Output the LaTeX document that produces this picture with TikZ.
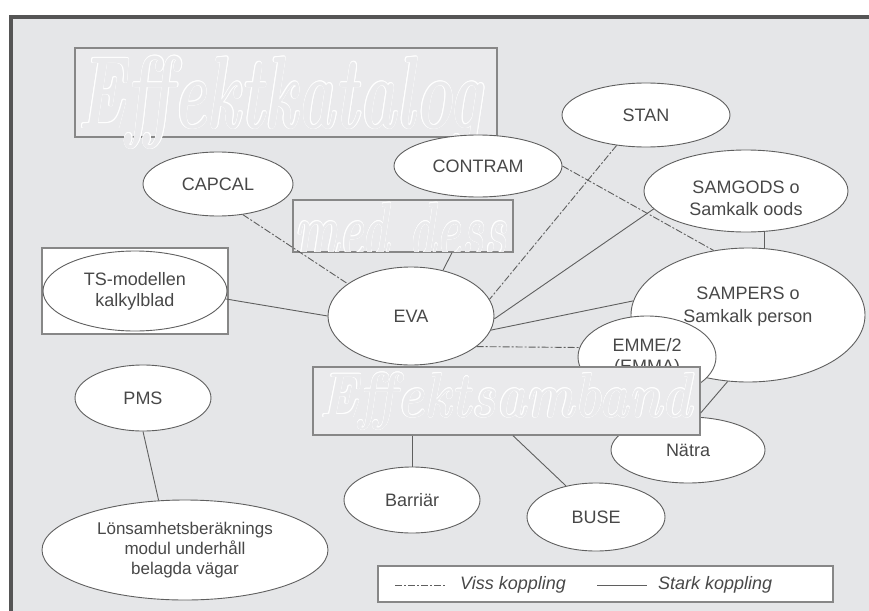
\documentclass[tikz,border=0pt]{standalone}
\usepackage{fontspec}
\newfontfamily\lsans{Liberation Sans}
\usetikzlibrary{shapes.geometric,calc}
\definecolor{panel}{RGB}{229,230,232}
\definecolor{boxfill}{RGB}{234,234,236}
\definecolor{boxedge}{RGB}{135,135,135}
\definecolor{ink}{RGB}{72,72,72}
\definecolor{edgec}{RGB}{95,95,95}
\definecolor{framec}{RGB}{85,85,85}
\newcommand{\outltxt}[2]{%
  \rlap{\kern#1\textcolor{white}{#2}}%
  \rlap{\kern-#1\textcolor{white}{#2}}%
  \rlap{\raisebox{#1}{\textcolor{white}{#2}}}%
  \rlap{\raisebox{-#1}{\textcolor{white}{#2}}}%
  \rlap{\kern#1\raisebox{#1}{\textcolor{white}{#2}}}%
  \rlap{\kern-#1\raisebox{#1}{\textcolor{white}{#2}}}%
  \rlap{\kern#1\raisebox{-#1}{\textcolor{white}{#2}}}%
  \rlap{\kern-#1\raisebox{-#1}{\textcolor{white}{#2}}}%
  \textcolor{boxfill}{#2}}
\tikzset{
  ell/.style 2 args={ellipse, draw=edgec, fill=white, line width=0.9pt, inner sep=0pt,
    minimum width=#1, minimum height=#2, text=ink, align=center,
    font=\lsans\fontsize{18}{21}\selectfont},
  conn/.style={draw=edgec, line width=0.9pt},
  viss/.style={conn, dash pattern=on 7pt off 2pt on 2pt off 2pt},
  bigbox/.style 2 args={rectangle, draw=boxedge, fill=boxfill, line width=1.3pt, inner sep=0pt,
    minimum width=#1, minimum height=#2},
  bigtext/.style={anchor=base west, inner sep=0pt, outer sep=0pt},
  legtext/.style={anchor=west, inner sep=0pt, text=ink, font=\lsans\itshape\fontsize{18}{21}\selectfont},
}
\begin{document}
\begin{tikzpicture}[x=1pt,y=-1pt]
\useasboundingbox (0,0) rectangle (869,610);
\fill[white] (0,0) rectangle (869,610);
\clip (0,0) rectangle (869,610);
% panel and frame
\fill[panel] (11,17.5) rectangle (900,650);
\draw[framec, line width=4pt] (11,650) -- (11,17.5) -- (900,17.5);

% Effektkatalog box
\node[bigbox={422pt}{89pt}] (ek) at (286,92.5) {};
\node[bigtext] (ektxt) at (78,128) {\resizebox{404pt}{73pt}{\fontsize{60}{60}\selectfont\bfseries\itshape\outltxt{0.4pt}{Effektkatalog}}};

% med dess box
\node[bigbox={220pt}{52pt}] (md) at (403,226) {};
\begin{scope}
\clip (293,200) rectangle (513,252);
\node[bigtext] (mdtxt) at (295,256) {\resizebox{212pt}{54pt}{\fontsize{60}{60}\selectfont\bfseries\itshape\outltxt{0.4pt}{med dess}}};
\end{scope}
\draw[boxedge, line width=1.3pt] (md.north west) rectangle (md.south east);

% TS box
\node[rectangle, draw=boxedge, fill=white, line width=1.2pt, minimum width=186pt, minimum height=86pt, inner sep=0pt] (tsbox) at (135,291) {};

% ellipses
\node[ell={168pt}{64pt}] (stan) at (646,115) {STAN};
\node[ell={168pt}{62pt}] (contram) at (478,166) {CONTRAM};
\node[ell={150pt}{64pt}] (capcal) at (218,184) {CAPCAL};
\node[ell={204pt}{82pt}, label={[yshift=-7pt, text=ink, align=center, font=\lsans\fontsize{18}{22}\selectfont]center:SAMGODS o\\Samkalk oods}] (sg) at (746,191) {};
\node[ell={184pt}{80pt}] (ts) at (135,291) {TS-modellen\\kalkylblad};
\node[ell={166pt}{98pt}] (eva) at (411,316) {EVA};
\node[ell={234pt}{134pt}, label={[yshift=8pt, text=ink, align=center, font=\lsans\fontsize{18}{23}\selectfont]center:SAMPERS o\\Samkalk person}] (sp) at (748,315) {};
\node[ell={138pt}{82pt}] (emme) at (647,357) {EMME/2\\(EMMA)};
\node[ell={154pt}{66pt}] (natra) at (688,450) {Nätra};
\node[ell={136pt}{66pt}] (pms) at (143,398) {PMS};
\node[ell={286pt}{100pt}, font=\lsans\fontsize{17}{20}\selectfont] (lons) at (185,550) {Lönsamhetsberäknings\\modul underhåll\\belagda vägar};
\node[ell={136pt}{66pt}] (barr) at (412,500) {Barriär};
\node[ell={138pt}{68pt}] (buse) at (596,517) {BUSE};

% connectors
\draw[conn] (ts.-5) -- (eva.180);
\draw[viss] (capcal.-51) -- (eva.153);
\draw[viss] (stan.-134) -- (eva.12);
\draw[conn] (sg.-169) -- (eva.-2);
\draw[conn] (sp.173.5) -- (eva.-10);
\draw[viss] (contram.0) -- (sp.118);
\draw[conn] ([xshift=18pt]sg.south) -- ([xshift=16pt]sp.north);
\draw[viss] (eva.-25.6) -- (emme.172);
\draw[conn] (pms.south) -- (lons.118);
\draw[conn] ([xshift=49pt]md.south) -- (eva.55);

% Effektsamband box
\node[bigbox={387pt}{68pt}] (es) at (506.5,401) {};
\node[bigtext] (estxt) at (320,417) {\resizebox{372pt}{45pt}{\fontsize{60}{60}\selectfont\bfseries\itshape\outltxt{0.4pt}{Effektsamband}}};
\draw[boxedge, line width=1.3pt] (es.north west) rectangle (es.south east);

\draw[conn] ([yshift=-12pt]es.east) -- (sp.-107);
\draw[conn] (barr.north |- es.south) -- (barr.north);
\draw[conn] ([xshift=6.5pt]es.south) -- (buse.134);

% legend
\node[rectangle, draw=boxedge, fill=white, line width=1.2pt, minimum width=455pt, minimum height=36pt, inner sep=0pt] (leg) at (605.5,584) {};
\coordinate (la) at (395,585);
\coordinate (lb) at (445,585);
\coordinate (lc) at (597,585);
\coordinate (ld) at (647,585);
\draw[viss] (la) -- (lb);
\draw[conn, line width=0.7pt] (lc) -- (ld);
\node[legtext] (lv) at (460,585) {Viss koppling};
\node[legtext] (ls) at (658,585) {Stark koppling};
\end{tikzpicture}
\end{document}
